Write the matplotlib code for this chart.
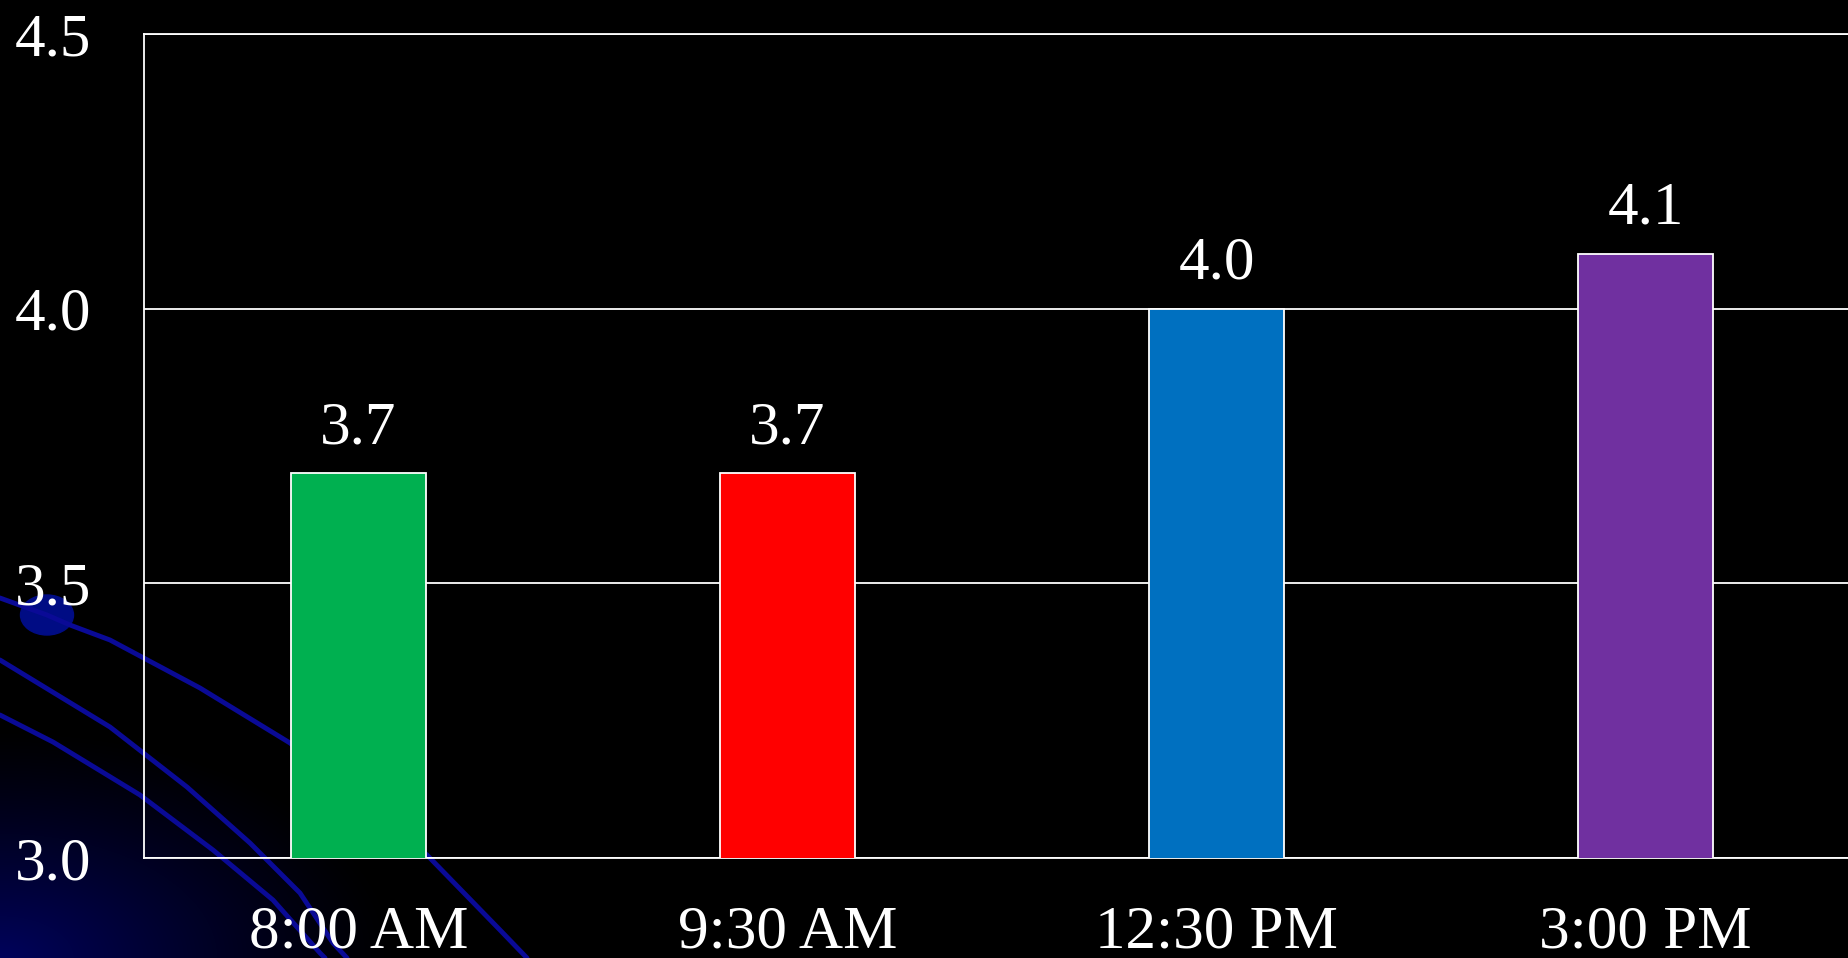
import numpy as np
import matplotlib
matplotlib.use("Agg")
import matplotlib.pyplot as plt
from matplotlib.patches import Ellipse

# donnees du graphique
heures = ["8:00 AM", "9:30 AM", "12:30 PM", "3:00 PM"]
valeurs = [3.7, 3.7, 4.0, 4.1]
couleurs = ["#00B050", "#FF0000", "#0070C0", "#7030A0"]
graduations = [3.0, 3.5, 4.0, 4.5]

plt.rcParams["font.family"] = ["Liberation Serif", "DejaVu Serif"]

W, H = 1849, 958
fig = plt.figure(figsize=(W / 100, H / 100), dpi=100, facecolor="black")

# fond decoratif (degrade bleu + courbes en bas a gauche)
bg = fig.add_axes([0, 0, 1, 1], zorder=-1)
bg.set_xlim(0, W)
bg.set_ylim(H, 0)
bg.axis("off")

yy, xx = np.mgrid[0:H, 0:W]
d = np.sqrt((xx / 400.0) ** 2 + ((H - yy) / 230.0) ** 2)
v = np.clip(1 - d, 0, 1) ** 1.2
img = np.zeros((H, W, 3))
img[..., 2] = 0.36 * v
img[..., 1] = 0.01 * v
bg.imshow(img, extent=(0, W, H, 0), aspect="auto", interpolation="bilinear")

courbe_a = [(0, 598), (47, 615), (70, 625), (110, 640), (200, 688), (290, 743),
            (427, 855), (500, 930), (527, 958)]
courbe_b = [(0, 660), (110, 727), (187, 787), (250, 843), (300, 893), (333, 943), (347, 958)]
courbe_c = [(0, 715), (53, 742), (140, 795), (213, 850), (273, 900), (320, 953), (325, 958)]
for c in (courbe_a, courbe_b, courbe_c):
    cx, cy = zip(*c)
    bg.plot(cx, cy, color="#0A0A96", lw=3.5, solid_capstyle="round", solid_joinstyle="round")
bg.add_patch(Ellipse((47, 615), 53, 40, color="#000C84"))

# graphique principal
ax = fig.add_axes([144 / W, 100 / H, 1716 / W, 824 / H])
ax.set_facecolor("none")

x = np.arange(len(heures))
bars = ax.bar(x, valeurs, width=0.313, color=couleurs, edgecolor="white", linewidth=1.3, zorder=3)

for b, val in zip(bars, valeurs):
    ax.annotate(f"{val:.1f}", (b.get_x() + b.get_width() / 2, val),
                xytext=(0, 21.5), textcoords="offset points",
                ha="center", va="baseline", color="white", fontsize=44)

ax.set_xlim(-0.5, 3.5)
ax.set_ylim(3.0, 4.5)
ax.set_xticks(x)
ax.set_xticklabels(heures)
ax.set_yticks(graduations)
ax.set_yticklabels([f"{g:.1f}" for g in graduations])
ax.tick_params(axis="x", length=0, pad=33.5, colors="white", labelsize=44)
ax.tick_params(axis="y", length=0, pad=38, colors="white", labelsize=44)

ax.grid(axis="y", color="white", linewidth=1.3, zorder=1)
ax.set_axisbelow(True)
for s in ["left", "bottom", "top"]:
    ax.spines[s].set_color("white")
    ax.spines[s].set_linewidth(1.3)
ax.spines["right"].set_visible(False)

plt.savefig("out.png", dpi=100, facecolor="black")
